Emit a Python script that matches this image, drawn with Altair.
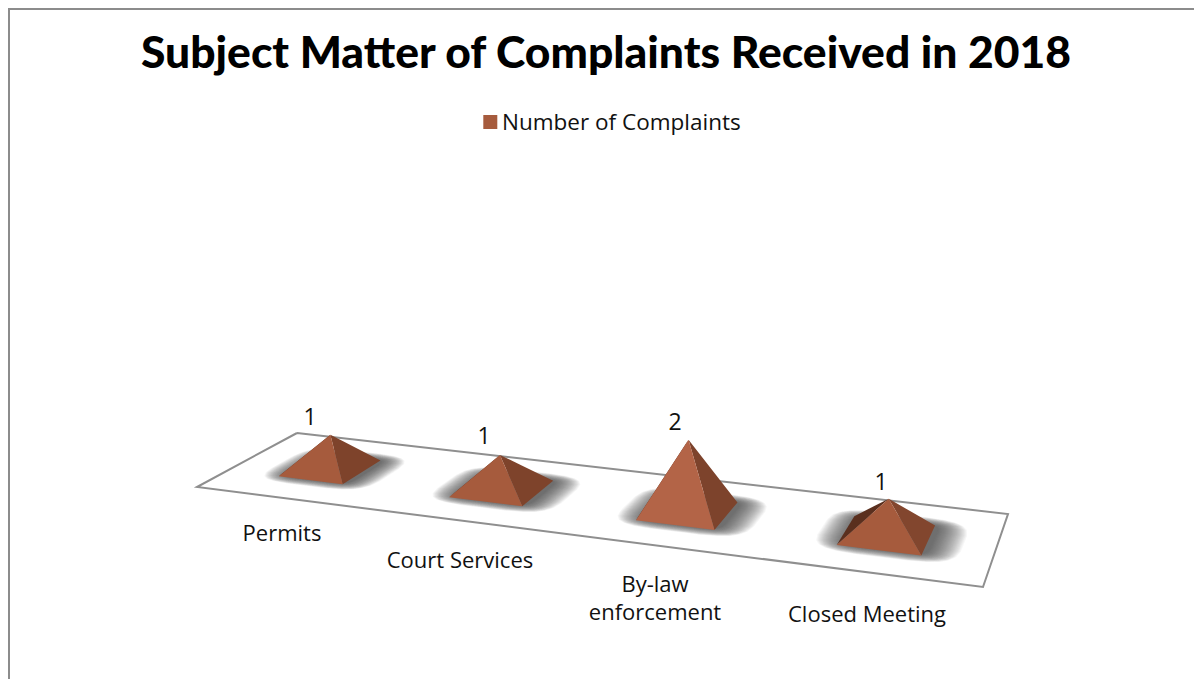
import math

import altair as alt
import numpy as np
import pandas as pd

# --- chart values ---
TITLE = "Subject Matter of Complaints Received in 2018"
SERIES = "Number of Complaints"
CATEGORIES = ["Permits", "Court Services", "By-law enforcement", "Closed Meeting"]
VALUES = [1, 1, 2, 1]

# --- layout (page pixels) ---
W, H = 1186, 671
FLOOR = [(297, 433), (1008, 514), (983, 587), (197, 487)]  # back-left, back-right, front-right, front-left
HALF_U = [0.187, 0.2, 0.2, 0.2]
HALF_V = 0.21
UNIT_HEIGHT = [33.5, 34.0, 35.7, 36.5]
APEX_DX = [-1, -3, 0, 1]
CENTER_U = [0.49, 1.48, 2.48, 3.48]
CENTER_V = [0.5, 0.5, 0.5, 0.5]
FRONT_COL = ["#a65b3d", "#a65b3d", "#b36447", "#a65b3d"]
RIGHT_COL = ["#7e432b", "#7e432b", "#7d432c", "#82462e"]
LEFT_COL = "#5a2f1e"
LABEL_POS = [(282, 534), (460, 561), (655, 599), (867, 615)]
VALUE_POS = [(310, 418), (484, 437), (675, 423), (881, 483)]


def homography(quad):
    src = [(0, 0), (4, 0), (4, 1), (0, 1)]
    A, b = [], []
    for (u, v), (x, y) in zip(src, quad):
        A.append([u, v, 1, 0, 0, 0, -u * x, -v * x])
        A.append([0, 0, 0, u, v, 1, -u * y, -v * y])
        b += [x, y]
    h = np.linalg.solve(np.array(A, float), np.array(b, float))
    return np.append(h, 1).reshape(3, 3)


HM = homography(FLOOR)


def project(u, v):
    p = HM @ np.array([u, v, 1.0])
    return float(p[0] / p[2]), float(p[1] / p[2])


def envelope(poly):
    """Upper and lower boundary of a convex polygon at each vertex x."""
    xs = sorted({round(p[0], 3) for p in poly})
    n = len(poly)
    out = []
    for x in xs:
        ys = []
        for i in range(n):
            (x0, y0), (x1, y1) = poly[i], poly[(i + 1) % n]
            lo, hi = min(x0, x1), max(x0, x1)
            if lo - 1e-3 <= x <= hi + 1e-3:
                if abs(x1 - x0) < 1e-6:
                    ys += [y0, y1]
                else:
                    ys.append(y0 + (y1 - y0) * (x - x0) / (x1 - x0))
        out.append((x, min(ys), max(ys)))
    return out


rows_shadow, rows_faces = [], []
pid = 0


def add(rows, poly, color, opacity=1.0):
    global pid
    pid += 1
    for x, y0, y1 in envelope(poly):
        rows.append(dict(pid=f"p{pid:04d}", x=x, y=y0, y2=y1, c=color, o=opacity))


def soft_outline(cu, cv, su, sv, power):
    pts = []
    for k in range(24):
        t = 2 * math.pi * (k + 0.5) / 24
        c, s = math.cos(t), math.sin(t)
        pts.append(project(
            cu + su * math.copysign(abs(c) ** power, c),
            cv + sv * math.copysign(abs(s) ** power, s),
        ))
    return pts


SHADOW_LAYERS = 30
for i, val in enumerate(VALUES):
    cu, cv = CENTER_U[i], CENTER_V[i]
    hu = HALF_U[i]
    for k in range(SHADOW_LAYERS):
        f = 1 - k / (SHADOW_LAYERS - 1)  # 1 outermost, 0 innermost
        add(rows_shadow,
            soft_outline(cu + 0.025, cv - 0.01, hu * (1.0 + 0.72 * f), HALF_V * (1.0 + 0.46 * f), 0.3 + 0.2 * f),
            "#3c3c3c", 0.045)
    bl = project(cu - hu, cv - HALF_V)
    rb = project(cu + hu, cv - HALF_V)
    fr = project(cu + hu, cv + HALF_V)
    fl = project(cu - hu, cv + HALF_V)
    cx, cy = project(cu, cv)
    apex = (cx + APEX_DX[i] + 1, cy - UNIT_HEIGHT[i] * val)
    add(rows_faces, [bl, fl, apex], LEFT_COL)
    add(rows_faces, [fr, rb, apex], RIGHT_COL[i])
    add(rows_faces, [fl, fr, apex], FRONT_COL[i])

X = alt.X("x:Q", scale=alt.Scale(domain=[8, 8 + W]), axis=None)
Y = alt.Y("y:Q", scale=alt.Scale(domain=[8 + H, 8]), axis=None)

floor_df = pd.DataFrame(
    [dict(x=p[0], y=p[1], k=i) for i, p in enumerate(FLOOR + FLOOR[:1])]
)
frame_df = pd.DataFrame(
    [dict(x=8, y=8 + H, k=0), dict(x=8, y=8, k=1), dict(x=1202, y=8, k=2)]
)

frame = alt.Chart(frame_df).mark_line(color="#8c8c8c", strokeWidth=4, clip=True).encode(
    x=X, y=Y, order="k:Q"
)
shadow = alt.Chart(pd.DataFrame(rows_shadow)).mark_area(interpolate="linear").encode(
    x=X, y=Y, y2="y2:Q", detail="pid:N",
    color=alt.Color("c:N", scale=None), opacity=alt.Opacity("o:Q", scale=None),
)
floor = alt.Chart(floor_df).mark_line(color="#8f8f8f", strokeWidth=2).encode(
    x=X, y=Y, order="k:Q"
)
faces = alt.Chart(pd.DataFrame(rows_faces)).mark_area(interpolate="linear").encode(
    x=X, y=Y, y2="y2:Q", detail="pid:N",
    color=alt.Color("c:N", scale=None),
)

title = alt.Chart(pd.DataFrame([dict(x=606, y=55, t=TITLE)])).mark_text(
    font="Lato", fontWeight=900, fontSize=44.4, color="#000000", baseline="middle", align="center"
).encode(x=X, y=Y, text="t:N")

legend_mark = alt.Chart(pd.DataFrame([dict(x=490.3, y=122)])).mark_square(
    size=196, color="#a65b3d", opacity=1
).encode(x=X, y=Y)
legend_text = alt.Chart(pd.DataFrame([dict(x=502, y=123, t=SERIES)])).mark_text(
    font="Open Sans", fontSize=22.5, color="#111111", align="left", baseline="middle"
).encode(x=X, y=Y, text="t:N")

cat_rows = []
for name, (lx, ly) in zip(CATEGORIES, LABEL_POS):
    if name == "By-law enforcement":
        cat_rows.append(dict(x=lx, y=ly - 14, t="By-law"))
        cat_rows.append(dict(x=lx, y=ly + 14, t="enforcement"))
    else:
        cat_rows.append(dict(x=lx, y=ly, t=name))
cat_text = alt.Chart(pd.DataFrame(cat_rows)).mark_text(
    font="Open Sans", fontSize=22, color="#111111", align="center", baseline="middle"
).encode(x=X, y=Y, text="t:N")

val_df = pd.DataFrame([dict(x=p[0], y=p[1], t=str(v)) for p, v in zip(VALUE_POS, VALUES)])
val_text = alt.Chart(val_df).mark_text(
    font="Open Sans", fontSize=23, color="#111111", align="center", baseline="middle"
).encode(x=X, y=Y, text="t:N")

chart = alt.layer(
    frame, shadow, floor, faces, title, legend_mark, legend_text, cat_text, val_text
).properties(
    width=W, height=H, padding=0, background="#ffffff",
    autosize=alt.AutoSizeParams(type="none"),
).configure_view(stroke=None)

chart.save("out.html", embed_options={"renderer": "svg", "actions": False})
